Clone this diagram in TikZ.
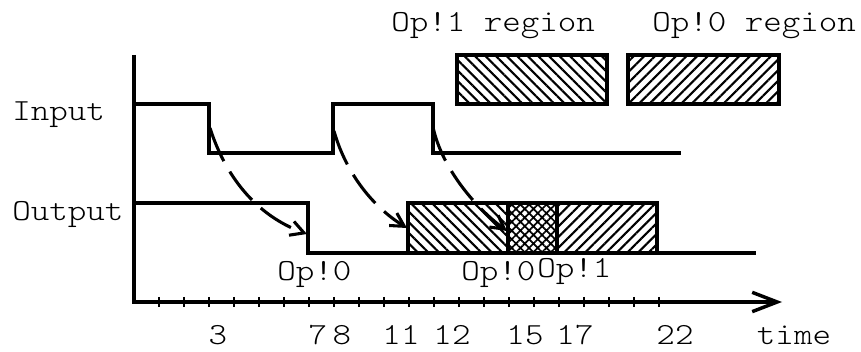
\documentclass[tikz,border=0pt]{standalone}
\usepackage{fontspec}
\setmonofont{lmmonolt10-regular.otf}[FakeStretch=1.15]
\usetikzlibrary{arrows.meta,patterns.meta}
\begin{document}
\begin{tikzpicture}[x=0.75pt,y=-0.75pt,
  sig/.style={line width=2.6pt, line join=miter},
  axisline/.style={line width=2.6pt, line join=miter},
  tickmark/.style={line width=0.8pt},
  txt/.style={font=\ttfamily\fontsize{23}{27}\selectfont, inner sep=0pt},
  lbl/.style={txt, anchor=base west},
  num/.style={txt, anchor=base},
  cause/.style={line width=2.3pt, dash pattern=on 27pt off 9pt,
    -{Straight Barb[length=10pt,width=11pt]}},
  box/.style={draw, line width=2.6pt},
  back/.style={pattern={Lines[angle=-45,distance=5.6pt,line width=1.6pt]}},
  fwd/.style={pattern={Lines[angle=45,distance=5.6pt,line width=1.6pt]}},
  cross/.style={pattern={Hatch[angle=45,distance=4.6pt,line width=1.3pt]}},
]
\useasboundingbox (0,0) rectangle (861,352);

% region boxes at top
\coordinate (r1a) at (457,55);  \coordinate (r1b) at (607,104);
\coordinate (r0a) at (628,55);  \coordinate (r0b) at (779,104);
\draw[box,back] (r1a) rectangle (r1b);
\draw[box,fwd]  (r0a) rectangle (r0b);

% hatched output regions
\coordinate (h1a) at (408,203); \coordinate (h1b) at (508,253);
\coordinate (h2a) at (508,203); \coordinate (h2b) at (557,253);
\coordinate (h3a) at (557,203); \coordinate (h3b) at (657,253);
\draw[box,back]  (h1a) rectangle (h1b);
\draw[box,cross] (h2a) rectangle (h2b);
\draw[box,fwd]   (h3a) rectangle (h3b);

% axes
\coordinate (ytop) at (134,55);
\coordinate (orig) at (134,302);
\coordinate (xend) at (782,302);
\draw[axisline,-{Straight Barb[length=18.75pt,width=14.5pt]}] (ytop) -- (orig) -- (xend);
\foreach \t in {1,...,21}
  \draw[tickmark] (134+25*\t,297) -- (134+25*\t,307);

% input signal
\coordinate (i0) at (134,104);
\coordinate (i1) at (209,104); \coordinate (i2) at (209,153);
\coordinate (i3) at (333,153); \coordinate (i4) at (333,104);
\coordinate (i5) at (433,104); \coordinate (i6) at (433,153);
\coordinate (i7) at (681,153);
\draw[sig] (i0) -- (i1) -- (i2) -- (i3) -- (i4) -- (i5) -- (i6) -- (i7);

% output signal
\coordinate (o0) at (134,203);
\coordinate (o1) at (308,203); \coordinate (o2) at (308,253);
\coordinate (o3) at (756,253);
\draw[sig] (o0) -- (o1) -- (o2) -- (o3);

% causal arrows
\coordinate (s1) at (210,128); \coordinate (e1) at (307,234);
\coordinate (s2) at (334,131); \coordinate (e2) at (407,228);
\coordinate (s3) at (433,127); \coordinate (e3) at (507,231);
\draw[cause] (s1) .. controls (225,175) and (255,215) .. (e1);
\draw[cause] (s2) .. controls (345,170) and (370,205) .. (e2);
\draw[cause] (s3) .. controls (441,165) and (472,205) .. (e3);

% labels
\node[lbl] (lin)  at (12,121) {Input};
\node[lbl] (lout) at (12,221) {Output};
\node[lbl] (lr1)  at (391,32) {Op!1 region};
\node[lbl] (lr0)  at (652,32) {Op!0 region};
\node[lbl] (lo1)  at (277,281) {Op!0};
\node[lbl] (lo2)  at (461,281) {Op!0};
\node[lbl] (lo3)  at (537,278) {Op!1};

% time labels
\node[num] (n3)  at (218,345) {3};
\node[num] (n7)  at (318,345) {7};
\node[num] (n8)  at (342,345) {8};
\node[num] (n11) at (401,345) {11};
\node[num] (n12) at (452,345) {12};
\node[num] (n15) at (525,345) {15};
\node[num] (n17) at (575,345) {17};
\node[num] (n22) at (675,345) {22};
\node[num] (ntime) at (794,345) {time};
\end{tikzpicture}
\end{document}
